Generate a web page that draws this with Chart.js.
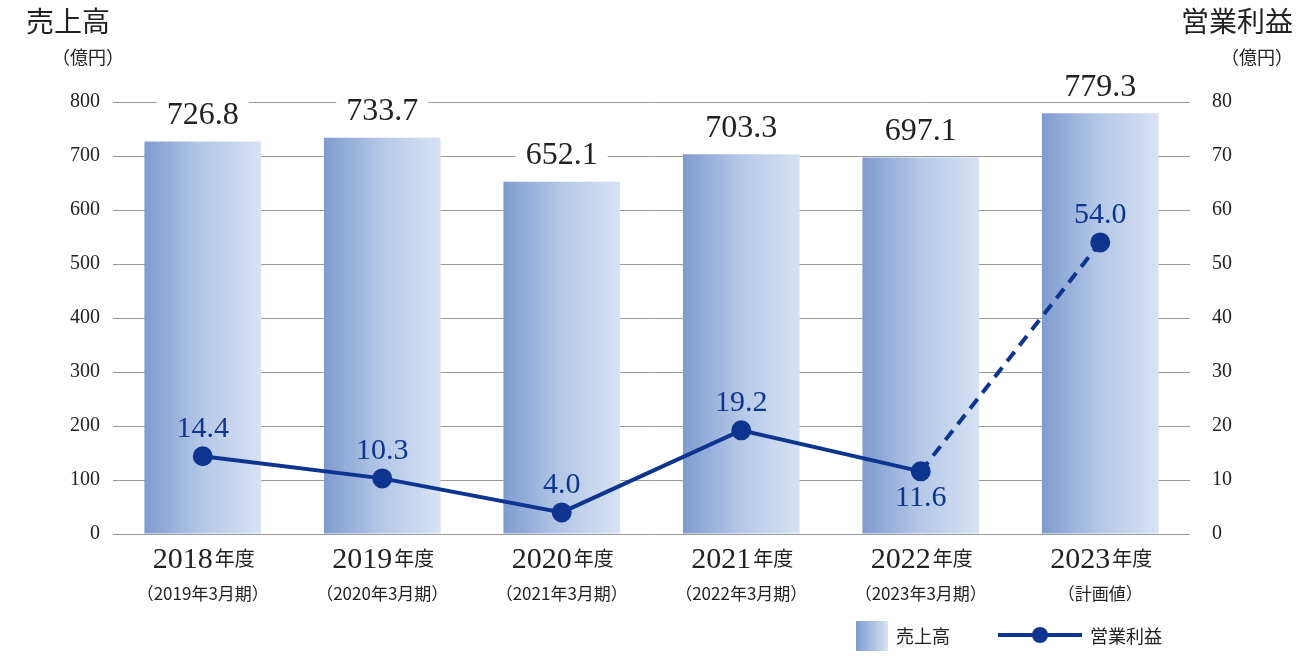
<!DOCTYPE html>
<html><head><meta charset="utf-8">
<script src="https://cdn.jsdelivr.net/npm/chart.js@4"></script>
<style>body{margin:0;background:#fff}#wrap{width:1308px;height:656px}</style>
</head><body><div id="wrap"><canvas id="myChart"></canvas></div>
<script>
var years = ["2018", "2019", "2020", "2021", "2022", "2023"];
var subLabels = ["（2019年3月期）", "（2020年3月期）", "（2021年3月期）", "（2022年3月期）", "（2023年3月期）", "（計画値）"];
var sales = [726.8, 733.7, 652.1, 703.3, 697.1, 779.3];
var profit = [14.4, 10.3, 4.0, 19.2, 11.6, 54.0];
var serif = "'Liberation Serif', serif";
var jp = "'Noto Sans CJK JP', sans-serif";
var navy = "#0d3590";

function barGrad(ctx) {
    var chart = ctx.chart;
    var xs = chart.scales.x, area = chart.chartArea;
    if (!xs || !area || ctx.dataIndex === undefined) return "#a9bde0";
    var x = xs.getPixelForValue(ctx.dataIndex);
    var w = (area.right - area.left) / years.length * 0.65;
    var g = chart.ctx.createLinearGradient(x - w / 2, 0, x + w / 2, 0);
    g.addColorStop(0, "#7f9bcf");
    g.addColorStop(0.5, "#b5c8e7");
    g.addColorStop(1, "#d7e2f3");
    return g;
}

var decor = {
    id: "decor",
    afterDatasetsDraw: function (chart) {
        var c = chart.ctx;
        var xs = chart.scales.x, y = chart.scales.y, y2 = chart.scales.y2;
        c.save();
        c.font = "32px " + serif;
        c.textAlign = "center";
        c.textBaseline = "bottom";
        sales.forEach(function (v, i) {
            var x = xs.getPixelForValue(i), py = y.getPixelForValue(v) - 12;
            var t = v.toFixed(1), w = c.measureText(t).width;
            c.fillStyle = "#fff";
            c.fillRect(x - w / 2 - 10, py - 30, w + 20, 30);
            c.fillStyle = "#222";
            c.fillText(t, x, py + 2);
        });
        c.fillStyle = navy;
        c.font = "30px " + serif;
        profit.forEach(function (v, i) {
            var x = xs.getPixelForValue(i), py = y2.getPixelForValue(v);
            if (i === 4) { c.textBaseline = "top"; c.fillText(v.toFixed(1), x, py + 12); }
            else { c.textBaseline = "bottom"; c.fillText(v.toFixed(1), x, py - 12); }
        });
        c.fillStyle = "#222";
        years.forEach(function (yr, i) {
            var x = xs.getPixelForValue(i);
            c.font = "30px " + serif;
            var w1 = c.measureText(yr).width;
            c.font = "20px " + jp;
            var w2 = c.measureText("年度").width;
            var sx = x - (w1 + w2) / 2;
            c.textAlign = "left"; c.textBaseline = "alphabetic";
            c.font = "30px " + serif; c.fillText(yr, sx, 568);
            c.font = "20px " + jp; c.fillText("年度", sx + w1 + 2, 566);
            c.textAlign = "center";
            c.font = "17px " + jp; c.fillText(subLabels[i], x, 600);
        });
        c.font = "28px " + jp; c.textAlign = "left"; c.fillText("売上高", 26, 32);
        c.textAlign = "right"; c.fillText("営業利益", 1293, 32);
        c.font = "18px " + jp;
        c.textAlign = "left"; c.fillText("（億円）", 52, 64);
        c.textAlign = "right"; c.fillText("（億円）", 1293, 64);
        var g = c.createLinearGradient(856, 0, 888, 0);
        g.addColorStop(0, "#7f9bcf"); g.addColorStop(1, "#d7e2f3");
        c.fillStyle = g; c.fillRect(856, 621, 32, 30);
        c.fillStyle = "#222"; c.font = "18px " + jp; c.textAlign = "left";
        c.fillText("売上高", 896, 643);
        c.strokeStyle = navy; c.lineWidth = 4;
        c.beginPath(); c.moveTo(998, 635); c.lineTo(1082, 635); c.stroke();
        c.fillStyle = navy; c.beginPath(); c.arc(1040, 635, 8, 0, Math.PI * 2); c.fill();
        c.fillStyle = "#222"; c.fillText("営業利益", 1090, 643);
        c.restore();
    }
};

new Chart(document.getElementById("myChart"), {
    type: "bar",
    data: {
        labels: years,
        datasets: [{
            type: "line",
            label: "営業利益",
            data: profit,
            yAxisID: "y2",
            borderColor: navy,
            backgroundColor: navy,
            borderWidth: 4,
            pointRadius: 8,
            pointHoverRadius: 8,
            segment: { borderDash: function (ctx) { return ctx.p1DataIndex === 5 ? [12, 8] : undefined; } },
            order: 0
        }, {
            label: "売上高",
            data: sales,
            yAxisID: "y",
            backgroundColor: barGrad,
            categoryPercentage: 1,
            barPercentage: 0.65,
            order: 1
        }]
    },
    options: {
        responsive: true,
        maintainAspectRatio: false,
        animation: false,
        layout: { padding: { top: 102, bottom: 122, left: 0, right: 0 } },
        plugins: { legend: { display: false }, tooltip: { enabled: false } },
        scales: {
            x: { display: false },
            y: {
                position: "left", min: 0, max: 800,
                ticks: { stepSize: 100, color: "#222", font: { family: serif, size: 20 }, padding: 13 },
                grid: { color: "#999", drawTicks: false },
                border: { display: false },
                afterFit: function (s) { s.width = 113; }
            },
            y2: {
                position: "right", min: 0, max: 80,
                ticks: { stepSize: 10, color: "#222", font: { family: serif, size: 20 }, padding: 14 },
                grid: { display: false },
                border: { display: false },
                afterFit: function (s) { s.width = 118; }
            }
        }
    },
    plugins: [decor]
});
</script>
</body></html>
